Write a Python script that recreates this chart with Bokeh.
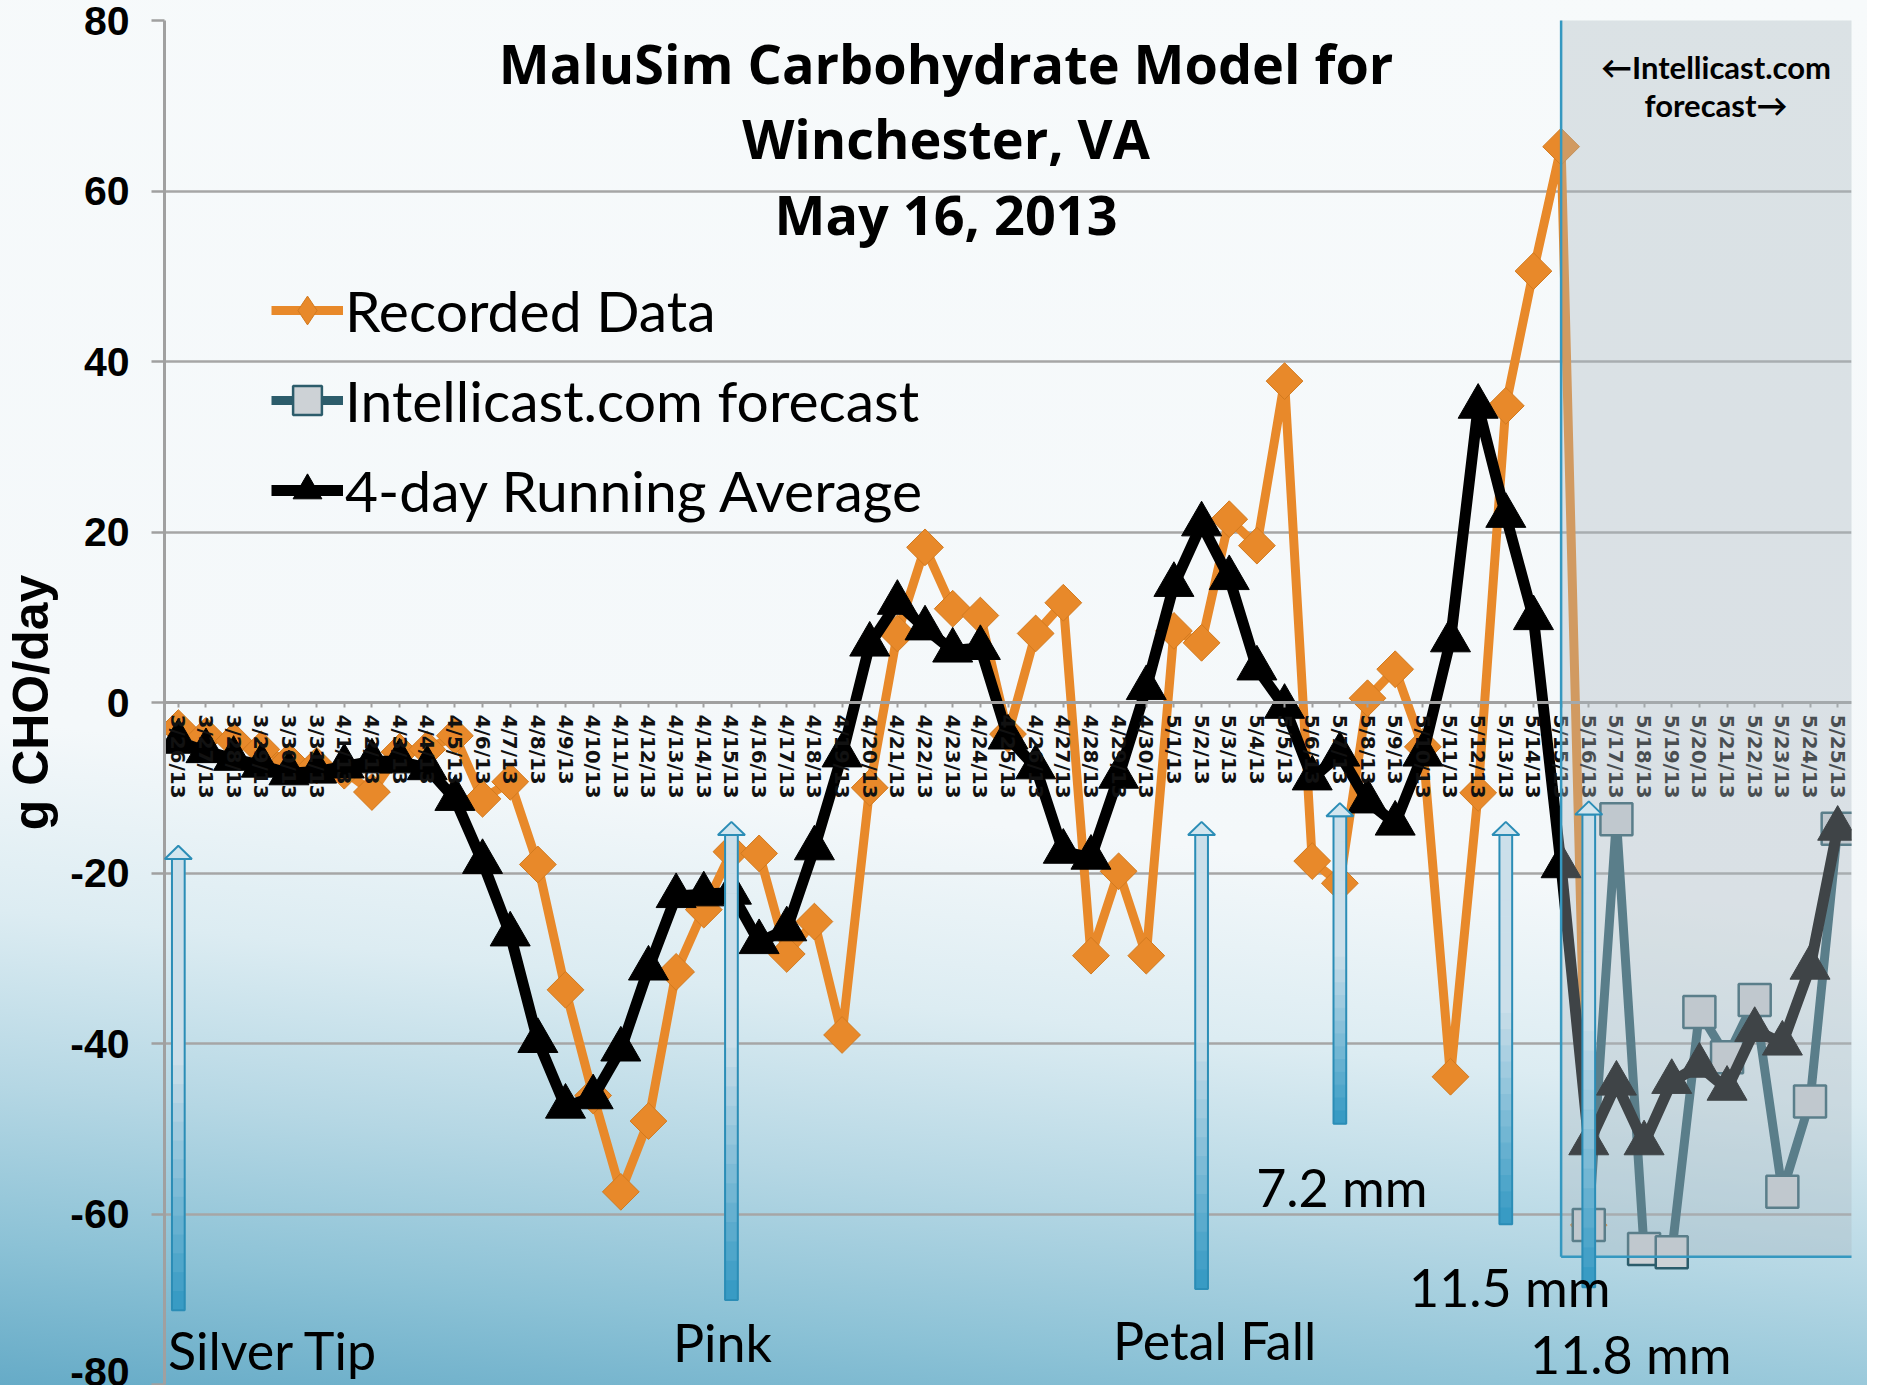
import numpy as np
from bokeh.plotting import figure
from bokeh.models import (FactorRange, Range1d, BoxAnnotation, Legend, LegendItem,
                          ColumnDataSource, FixedTicker)
from bokeh.core.properties import value
from bokeh.embed import file_html
from bokeh.resources import INLINE

# ---------------- data ----------------
dates = ["3/26/13", "3/27/13", "3/28/13", "3/29/13", "3/30/13", "3/31/13",
         "4/1/13", "4/2/13", "4/3/13", "4/4/13", "4/5/13", "4/6/13", "4/7/13", "4/8/13",
         "4/9/13", "4/10/13", "4/11/13", "4/12/13", "4/13/13", "4/14/13", "4/15/13",
         "4/16/13", "4/17/13", "4/18/13", "4/19/13", "4/20/13", "4/21/13", "4/22/13",
         "4/23/13", "4/24/13", "4/25/13", "4/26/13", "4/27/13", "4/28/13", "4/29/13",
         "4/30/13", "5/1/13", "5/2/13", "5/3/13", "5/4/13", "5/5/13", "5/6/13", "5/7/13",
         "5/8/13", "5/9/13", "5/10/13", "5/11/13", "5/12/13", "5/13/13", "5/14/13",
         "5/15/13", "5/16/13", "5/17/13", "5/18/13", "5/19/13", "5/20/13", "5/21/13",
         "5/22/13", "5/23/13", "5/24/13", "5/25/13"]

# Recorded Data: 3/26/13 .. 5/16/13
recorded = [-3.0, -3.9, -4.5, -5.5, -6.9, -7.4, -8.0, -10.5, -5.8, -5.5,
            -3.9, -11.3, -9.3, -19.0, -33.7, -46.1, -57.4, -49.1, -31.6, -24.3,
            -17.5, -17.7, -29.5, -25.7, -39.0, -10.0, 8.1, 18.2, 11.0, 10.2,
            -3.7, 8.1, 11.7, -29.7, -19.8, -29.7, 8.4, 7.0, 21.5, 18.4,
            37.7, -18.6, -21.2, 0.5, 3.9, -5.2, -43.9, -10.6, 34.8, 50.6,
            65.2, -61.3]

# Intellicast.com forecast: 5/16/13 .. 5/25/13
forecast = [-61.3, -13.7, -64.1, -64.5, -36.3, -41.6, -34.9, -57.4, -46.8, -14.8]

# 4-day Running Average: 3/26/13 .. 5/25/13
running_avg = [-4.6, -5.7, -6.6, -7.4, -8.3, -8.1, -7.5, -6.9, -6.9, -7.7,
               -11.3, -18.7, -27.2, -39.7, -47.4, -46.3, -40.7, -31.2, -22.7, -22.5,
               -22.3, -28.1, -26.6, -17.1, -6.2, 6.8, 11.7, 8.7, 6.1, 6.4,
               -4.1, -7.6, -17.5, -18.2, -8.7, 1.7, 13.8, 20.9, 14.6, 4.0,
               -0.5, -8.9, -6.1, -11.6, -14.2, -6.1, 7.3, 34.7, 21.9, 9.9,
               -19.2, -51.7, -44.7, -51.7, -44.5, -42.6, -45.3, -38.4, -40.0, -31.1,
               -14.8]

y_ticks = [-80, -60, -40, -20, 0, 20, 40, 60, 80]

# phenology / rain events (arrows + labels)
events = ["Silver Tip", "Pink", "Petal Fall", "7.2 mm", "11.5 mm", "11.8 mm"]
event_dates = ["3/26/13", "4/15/13", "5/2/13", "5/7/13", "5/13/13", "5/16/13"]
event_arrow_top = [-16.8, -14.0, -14.0, -11.8, -14.0, -11.6]
event_arrow_bottom = [-71.3, -70.1, -68.8, -49.4, -61.2, -68.6]
event_label_y = [-76.0, -75.0, -74.8, -56.8, -68.6, -76.4]

forecast_box_start = "5/15/13"
forecast_box_bottom = -65

title_text = "MaluSim Carbohydrate Model for\nWinchester, VA\nMay 16, 2013"
note_text = "\u2190Intellicast.com\nforecast\u2192"

# ---------------- styles / layout ----------------
event_label_dx = [95, -9, 13, 2, 4, 42]
W, H = 1867, 1385
ORANGE = "#e8892a"
TEAL = "#2c5c6b"

p = figure(x_range=FactorRange(factors=dates), y_range=Range1d(-80, 80),
           width=W, height=H, output_backend="svg", toolbar_location=None,
           min_border_left=162, min_border_right=16, min_border_top=20,
           min_border_bottom=1)
p.background_fill_alpha = 0
p.border_fill_alpha = 0
p.outline_line_color = None
p.styles = {"background": "linear-gradient(186deg, #f7fafb 0%, #f4f8fa 58%, "
                          "#dcecf2 70%, #b5d7e4 81%, #8cc2d6 91%, #66abc7 100%)"}

# grid
p.xgrid.visible = False
p.ygrid.grid_line_color = "#a6a6a6"
p.ygrid.grid_line_width = 2.5

# y axis
p.yaxis.ticker = FixedTicker(ticks=y_ticks)
p.yaxis.major_label_overrides = {t: str(t) for t in y_ticks}
p.yaxis.axis_label = "g CHO/day"
p.yaxis.axis_label_text_font = "Liberation Sans"
p.yaxis.axis_label_text_font_style = "bold"
p.yaxis.axis_label_text_font_size = "50px"
p.yaxis.axis_label_text_color = "black"
p.yaxis.axis_label_standoff = 8
p.yaxis.major_label_text_font = "Liberation Sans"
p.yaxis.major_label_text_font_style = "bold"
p.yaxis.major_label_text_font_size = "41px"
p.yaxis.major_label_text_color = "black"
p.yaxis.major_label_standoff = 22
p.yaxis.axis_line_color = "#a0a0a0"
p.yaxis.axis_line_width = 3
p.yaxis.major_tick_line_color = "#a0a0a0"
p.yaxis.major_tick_line_width = 2.5
p.yaxis.major_tick_out = 13
p.yaxis.major_tick_in = 0
p.yaxis.minor_tick_line_color = None

# x axis through zero
p.xaxis.fixed_location = 0
p.xaxis.major_label_orientation = "vertical"
p.xaxis.major_label_text_font = "DejaVu Sans"
p.xaxis.major_label_text_font_style = "bold"
p.xaxis.major_label_text_font_size = "20px"
p.xaxis.major_label_text_color = "#111111"
p.xaxis.major_label_standoff = 7
p.xaxis.axis_line_color = "#a0a0a0"
p.xaxis.axis_line_width = 3
p.xaxis.major_tick_line_color = "#a0a0a0"
p.xaxis.major_tick_line_width = 2
p.xaxis.major_tick_out = 5
p.xaxis.major_tick_in = 0

# ---------------- series ----------------
rec_src = ColumnDataSource(dict(x=dates[:len(recorded)], y=recorded))
fc_src = ColumnDataSource(dict(x=dates[len(dates) - len(forecast):], y=forecast))
avg_src = ColumnDataSource(dict(x=dates[:len(running_avg)], y=running_avg))

rec_line = p.line("x", "y", source=rec_src, line_color=ORANGE, line_width=9)
rec_pts = p.scatter("x", "y", source=rec_src, marker="square", angle=np.pi / 4, size=26,
                    fill_color=ORANGE, line_color="#d27a1f", line_width=1)
# legend-only marker (legend glyphs are drawn unrotated)
rec_leg = p.scatter(x=[dates[0]], y=[np.nan], marker="diamond", size=30,
                    fill_color=ORANGE, line_color="#d27a1f", line_width=1)

fc_line = p.line("x", "y", source=fc_src, line_color=TEAL, line_width=9)
fc_pts = p.scatter("x", "y", source=fc_src, marker="square", size=32,
                   fill_color="#cdd2d6", line_color=TEAL, line_width=2.5)

avg_line = p.line("x", "y", source=avg_src, line_color="black", line_width=11)
avg_pts = p.scatter("x", "y", source=avg_src, marker="triangle", size=40,
                    fill_color="black", line_color="black")

# forecast shading box (semi-transparent overlay)
x_idx = {d: i for i, d in enumerate(dates)}
box_left = x_idx[forecast_box_start] + 0.5
box = BoxAnnotation(left=box_left, bottom=forecast_box_bottom,
                    right=W + 40, right_units="canvas", top=-40, top_units="canvas",
                    fill_color="#acb9c1", fill_alpha=0.37, line_alpha=0,
                    level="annotation")
p.add_layout(box)
p.segment(x0=[box_left, box_left], y0=[forecast_box_bottom, forecast_box_bottom],
          x1=[box_left, len(dates)], y1=[80, forecast_box_bottom],
          line_color="#3598c0", line_width=2.5, level="overlay")

# ---------------- event arrows ----------------
shaft_hw, head_hw, head_h = 0.23, 0.49, 1.55
light = np.array([0xcb, 0xdf, 0xea])
dark = np.array([0x33, 0x99, 0xc3])
nseg = 24
ql, qr, qt, qb, qc = [], [], [], [], []
for d, top, bot in zip(event_dates, event_arrow_top, event_arrow_bottom):
    cx = x_idx[d] + 0.5
    stop = top - head_h
    edges = np.linspace(stop, bot, nseg + 1)
    for k in range(nseg):
        f = (k + 0.5) / nseg
        t = 0.0 if f < 0.45 else (f - 0.45) / 0.55
        c = (light * (1 - t) + dark * t).astype(int)
        ql.append(cx - shaft_hw); qr.append(cx + shaft_hw)
        qt.append(edges[k]); qb.append(edges[k + 1])
        qc.append("#%02x%02x%02x" % tuple(c))
p.quad(left=ql, right=qr, top=qt, bottom=qb, fill_color=qc, line_color=qc,
       line_width=1, level="overlay")
cxs = [x_idx[d] + 0.5 for d in event_dates]
p.quad(left=[c - shaft_hw for c in cxs], right=[c + shaft_hw for c in cxs],
       top=[t - head_h for t in event_arrow_top], bottom=event_arrow_bottom,
       fill_alpha=0, line_color="#2b8db6", line_width=2, level="overlay")
p.patches(xs=[[c - head_hw, c, c + head_hw] for c in cxs],
          ys=[[t - head_h, t, t - head_h] for t in event_arrow_top],
          fill_color="#d3e6ef", line_color="#2b8db6", line_width=2, level="overlay")

lab_src = ColumnDataSource(dict(x=event_dates, y=event_label_y, text=events, dx=event_label_dx))
p.text("x", "y", text="text", x_offset="dx", source=lab_src, text_font=value("Lato"),
       text_font_size="52px", text_align="center", text_baseline="middle",
       text_color="black", level="overlay")

# ---------------- title & note ----------------
p.text(x=[28.26], y=[66.2], text=[title_text], text_font=value("Open Sans"),
       text_font_style="bold", text_font_size="54px", text_align="center",
       text_baseline="middle", text_line_height=1.02, text_color="black")
p.text(x=[56.1], y=[72.3], text=[note_text], text_font=value("Lato"),
       text_font_style="bold", text_font_size="31px", text_align="center",
       text_baseline="middle", text_line_height=1.0, text_color="black",
       level="overlay")

# ---------------- legend ----------------
legend = Legend(items=[LegendItem(label="Recorded Data", renderers=[rec_line, rec_leg]),
                       LegendItem(label="Intellicast.com forecast", renderers=[fc_line, fc_pts]),
                       LegendItem(label="4-day Running Average", renderers=[avg_line, avg_pts])],
                location=(107, 854), orientation="vertical",
                label_text_font="Lato", label_text_font_size="57px",
                label_text_color="black",
                glyph_width=72, glyph_height=80, label_height=80, spacing=10,
                padding=0, margin=0, label_standoff=2,
                border_line_alpha=0, background_fill_alpha=0)
p.add_layout(legend)

open("out.html", "w").write(file_html(p, INLINE))
